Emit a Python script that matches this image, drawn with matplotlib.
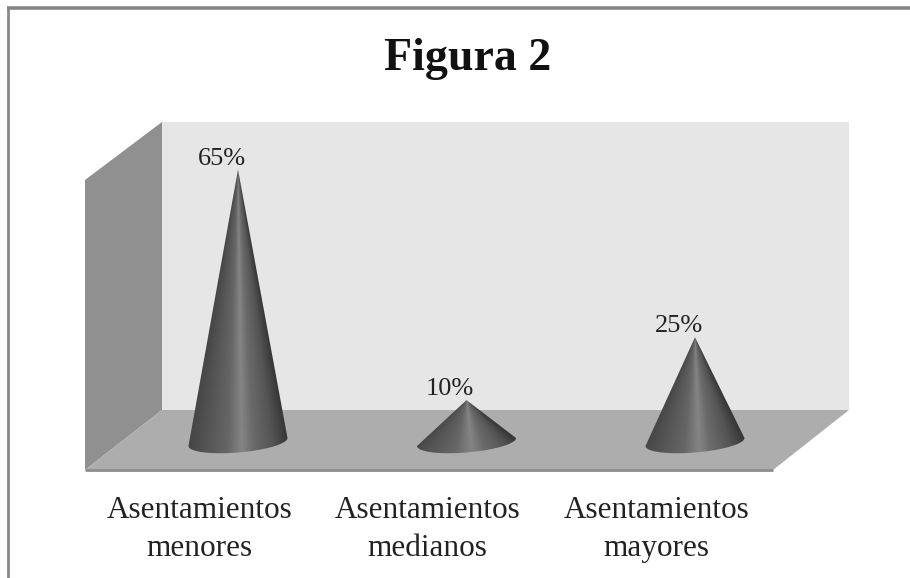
import numpy as np
from matplotlib import pyplot as plt
from matplotlib.patches import Polygon
from matplotlib.path import Path

categories = ['Asentamientos\nmenores', 'Asentamientos\nmedianos',
              'Asentamientos\nmayores']
values = [65, 10, 25]
value_labels = ['65%', '10%', '25%']
title = 'Figura 2'

W, H = 910, 578
X0, DX = 238, 228.5   # pixel x of first cone, spacing
Y0, DY = 442, 4.19    # pixel y of zero, pixels per percent

plt.rcParams['font.family'] = ['Liberation Serif', 'DejaVu Serif']

fig = plt.figure(figsize=(W / 100, H / 100), dpi=100, facecolor='white')

# pixel axes for the frame and the 3d box
bg = fig.add_axes([0, 0, 1, 1])
bg.set_xlim(0, W)
bg.set_ylim(H, 0)
bg.axis('off')

bg.plot([8, 8], [H, 7], color='#8a8a8a', lw=2, solid_capstyle='butt')
bg.plot([7, W], [7.5, 7.5], color='#858585', lw=2.6, solid_capstyle='butt')
bg.add_patch(Polygon([(162, 122), (849, 122), (849, 410), (162, 410)],
                     fc='#e6e6e6', ec='none'))
bg.add_patch(Polygon([(85, 180), (162, 122), (162, 410), (85, 470)],
                     fc='#909090', ec='none'))
bg.add_patch(Polygon([(162, 410), (849, 410), (773, 470), (85, 470)],
                     fc='#adadad', ec='none'))
bg.plot([85, 773], [470, 470], color='#8c8c8c', lw=2, solid_capstyle='butt')

# value axes: same frame, x in categories and y in percent
ax = fig.add_axes([0, 0, 1, 1])
ax.patch.set_alpha(0)
ax.set_xlim(-X0 / DX, (W - X0) / DX)
ax.set_ylim((Y0 - H) / DY, Y0 / DY)
ax.axis('off')

half_w = 49.5 / DX
ell_h = 10.5 / DY
tilt = 4 / DY
u_stops = [-1.0, -0.7, -0.2, 0.08, 0.3, 0.7, 1.0]
shade_stops = [0.27, 0.32, 0.40, 0.52, 0.42, 0.33, 0.22]

for i, v in enumerate(values):
    xs = np.linspace(i - half_w * 1.05, i + half_w * 1.05, 260)
    ys = np.linspace(-ell_h - tilt, v, 500)
    xx, yy = np.meshgrid(xs, ys)
    spread = np.clip((v - yy) / v, 1e-3, None) * half_w
    shade = np.interp((xx - i) / spread, u_stops, shade_stops)
    im = ax.imshow(shade, extent=[xs[0], xs[-1], ys[0], ys[-1]],
                   origin='lower', cmap='gray', vmin=0, vmax=1,
                   aspect='auto', interpolation='bilinear', zorder=3)
    t = np.linspace(0, np.pi, 60)
    arc_x = i + half_w * np.cos(t)
    arc_y = tilt * np.cos(t) - ell_h * np.sin(t)
    verts = [(i, v)] + list(zip(arc_x, arc_y)) + [(i, v)]
    im.set_clip_path(Path(verts), transform=ax.transData)
    ax.text(i - 0.072, v, value_labels[i], ha='center', va='bottom',
            fontsize=19, color='#222222', zorder=4)

ax.set_xlim(-X0 / DX, (W - X0) / DX)
ax.set_ylim((Y0 - H) / DY, Y0 / DY)

for i, label in enumerate(categories):
    ax.text(i - 0.17, (Y0 - 496) / DY, label, ha='center', va='top',
            fontsize=22.5, color='#222222', linespacing=1.42)

fig.text(468 / W, 1 - 59 / H, title, ha='center', va='center',
         fontsize=33, fontweight='bold', color='#111111')

fig.savefig('out.png', dpi=100)
